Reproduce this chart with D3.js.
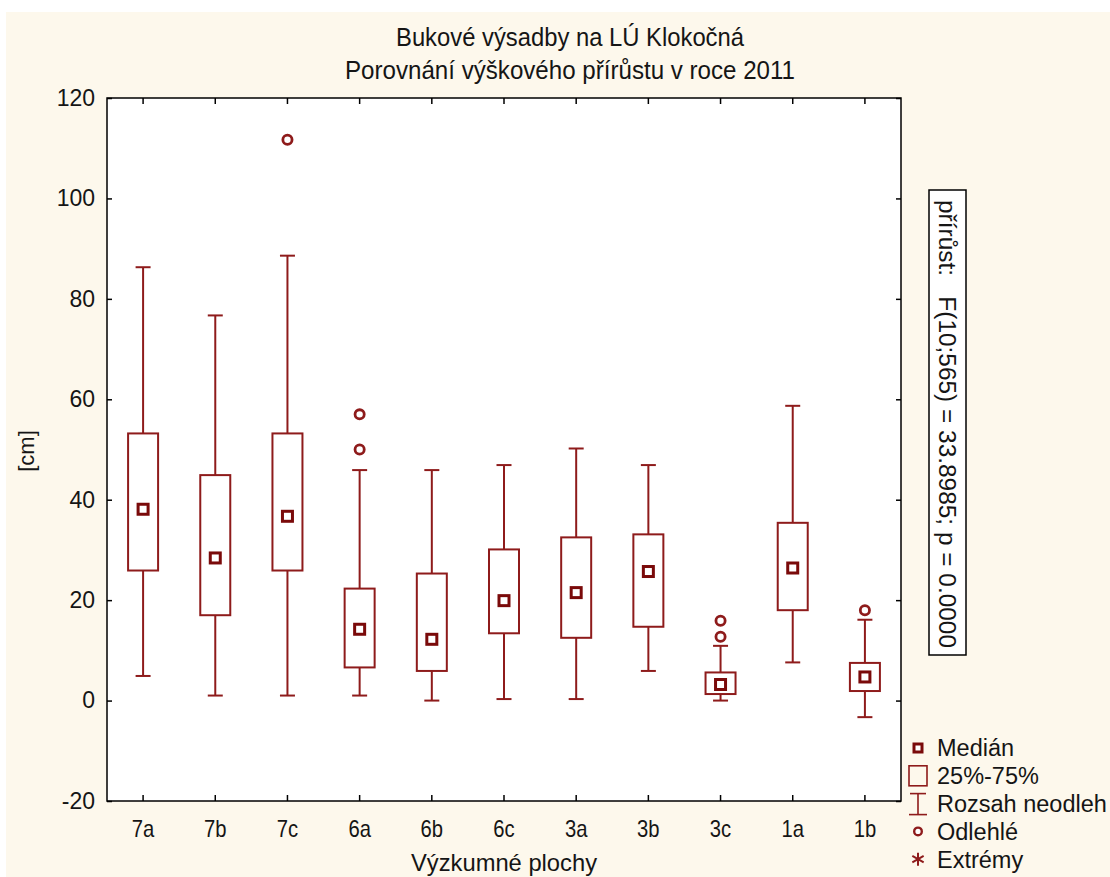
<!DOCTYPE html>
<html>
<head>
<meta charset="utf-8">
<script src="https://cdn.jsdelivr.net/npm/d3@7"></script>
<style>
  html, body { margin: 0; padding: 0; background: #ffffff; }
  svg { display: block; }
</style>
</head>
<body>
<svg id="chart" width="1110" height="877"></svg>
<script>
// Height increment of beech plantings per research plot (cm)
const categories  = ["7a", "7b", "7c", "6a", "6b", "6c", "3a", "3b", "3c", "1a", "1b"];
const whiskerLow  = [4.9, 1.0, 1.0, 1.0, 0.0, 0.3, 0.3, 5.9, 0.0, 7.6, -3.3];
const quartile1   = [25.9, 17.0, 25.9, 6.6, 5.9, 13.4, 12.5, 14.7, 1.3, 18.0, 1.9];
const medians     = [38.1, 28.4, 36.7, 14.2, 12.2, 19.9, 21.5, 25.7, 3.2, 26.4, 4.7];
const quartile3   = [53.2, 44.9, 53.2, 22.3, 25.3, 30.1, 32.5, 33.1, 5.6, 35.4, 7.5];
const whiskerHigh = [86.3, 76.7, 88.6, 45.9, 45.9, 46.9, 50.2, 46.9, 10.9, 58.7, 16.1];
const outlierCats   = ["7c", "6a", "6a", "3c", "3c", "1b"];
const outlierValues = [111.7, 57.0, 50.0, 15.9, 12.7, 18.0];

const yTicks = [-20, 0, 20, 40, 60, 80, 100, 120];
const titleLines = ["Bukové výsadby na LÚ Klokočná", "Porovnání výškového přírůstu v roce 2011"];
const titleWidths = [348, 450];
const xTitle = "Výzkumné plochy";
const yTitle = "[cm]";
const statText = "přírůst:   F(10;565) = 33.8985; p = 0.0000";
const legendLabels = ["Medián", "25%-75%", "Rozsah neodleh", "Odlehlé", "Extrémy"];

const boxes = categories.map((c, i) => ({
  cat: c, lo: whiskerLow[i], q1: quartile1[i], med: medians[i], q3: quartile3[i], hi: whiskerHigh[i]
}));
const outliers = outlierCats.map((c, i) => ({ cat: c, value: outlierValues[i] }));

const RED = "#8e1b1b";
const DARK_RED = "#7a0a0a";
const INK = "#151515";
const SANS = "'Liberation Sans', Arial, sans-serif";

const svg = d3.select("#chart");

// page background
svg.append("rect").attr("x", 6).attr("y", 12).attr("width", 1104).attr("height", 865)
  .attr("fill", "#fdf8ec");

const plot = { left: 107, right: 901, top: 98, bottom: 801 };

const x = d3.scaleBand().domain(categories).range([plot.left, plot.right]);
const y = d3.scaleLinear().domain([-20, 120]).range([plot.bottom, plot.top]);

// plot area
svg.append("rect")
  .attr("x", plot.left).attr("y", plot.top)
  .attr("width", plot.right - plot.left).attr("height", plot.bottom - plot.top)
  .attr("fill", "#ffffff");

// titles (slightly condensed)
svg.append("g").selectAll("text").data(titleLines).join("text")
  .attr("x", 570).attr("y", (d, i) => 46 + i * 33)
  .attr("text-anchor", "middle")
  .attr("font-family", SANS).attr("font-size", 25).attr("fill", INK)
  .attr("textLength", (d, i) => titleWidths[i])
  .attr("lengthAdjust", "spacingAndGlyphs")
  .text(d => d);

// axes with inward ticks
const styleAxis = g => {
  g.select(".domain").remove();
  g.selectAll(".tick line").attr("stroke", "#000").attr("stroke-width", 1.5);
};

svg.append("g").attr("transform", `translate(${plot.left},0)`)
  .call(d3.axisLeft(y).tickValues(yTicks).tickSize(-5).tickPadding(12).tickFormat(d => String(d)))
  .call(styleAxis)
  .call(g => g.selectAll("text").attr("font-family", SANS).attr("font-size", 23).attr("fill", INK));

svg.append("g").attr("transform", `translate(${plot.right},0)`)
  .call(d3.axisRight(y).tickValues(yTicks).tickSize(-5).tickFormat(""))
  .call(styleAxis);

svg.append("g").attr("transform", `translate(0,${plot.top})`)
  .call(d3.axisTop(x).tickSize(-6).tickFormat(""))
  .call(styleAxis);

svg.append("g").attr("transform", `translate(0,${plot.bottom})`)
  .call(d3.axisBottom(x).tickSize(-6).tickPadding(20))
  .call(styleAxis)
  .call(g => g.selectAll("text").attr("font-family", SANS).attr("font-size", 23).attr("fill", INK)
    .attr("transform", "scale(0.88,1)"));

// frame
svg.append("rect")
  .attr("x", plot.left).attr("y", plot.top)
  .attr("width", plot.right - plot.left).attr("height", plot.bottom - plot.top)
  .attr("fill", "none").attr("stroke", "#000").attr("stroke-width", 1.5);

// axis titles
svg.append("text")
  .attr("x", (plot.left + plot.right) / 2).attr("y", 871)
  .attr("text-anchor", "middle")
  .attr("font-family", SANS).attr("font-size", 24).attr("fill", INK)
  .attr("textLength", 186).attr("lengthAdjust", "spacingAndGlyphs")
  .text(xTitle);

svg.append("text")
  .attr("transform", "translate(34,451) rotate(-90)")
  .attr("text-anchor", "middle")
  .attr("font-family", SANS).attr("font-size", 22).attr("fill", INK)
  .text(yTitle);

// box plots
const boxW = 30, capW = 15, medS = 10;
const cx = d => x(d.cat) + x.bandwidth() / 2;
const gBox = svg.append("g").selectAll("g").data(boxes).join("g");

gBox.append("line")
  .attr("x1", cx).attr("x2", cx)
  .attr("y1", d => y(d.hi)).attr("y2", d => y(d.q3))
  .attr("stroke", RED).attr("stroke-width", 2);
gBox.append("line")
  .attr("x1", cx).attr("x2", cx)
  .attr("y1", d => y(d.q1)).attr("y2", d => y(d.lo))
  .attr("stroke", RED).attr("stroke-width", 2);
gBox.append("line")
  .attr("x1", d => cx(d) - capW / 2).attr("x2", d => cx(d) + capW / 2)
  .attr("y1", d => y(d.hi)).attr("y2", d => y(d.hi))
  .attr("stroke", RED).attr("stroke-width", 2);
gBox.append("line")
  .attr("x1", d => cx(d) - capW / 2).attr("x2", d => cx(d) + capW / 2)
  .attr("y1", d => y(d.lo)).attr("y2", d => y(d.lo))
  .attr("stroke", RED).attr("stroke-width", 2);
gBox.append("rect")
  .attr("x", d => cx(d) - boxW / 2).attr("width", boxW)
  .attr("y", d => y(d.q3)).attr("height", d => y(d.q1) - y(d.q3))
  .attr("fill", "#fff").attr("stroke", RED).attr("stroke-width", 2);
gBox.append("rect")
  .attr("x", d => cx(d) - medS / 2).attr("width", medS)
  .attr("y", d => y(d.med) - medS / 2).attr("height", medS)
  .attr("fill", "#fff").attr("stroke", DARK_RED).attr("stroke-width", 3);

// outliers
svg.append("g").selectAll("circle").data(outliers).join("circle")
  .attr("cx", d => x(d.cat) + x.bandwidth() / 2)
  .attr("cy", d => y(d.value))
  .attr("r", 4.6)
  .attr("fill", "#fff").attr("stroke", RED).attr("stroke-width", 2.8);

// statistics box (vertical text)
svg.append("rect")
  .attr("x", 929).attr("y", 190).attr("width", 37).attr("height", 465)
  .attr("fill", "#fff").attr("stroke", "#000").attr("stroke-width", 1.5);
svg.append("text")
  .attr("transform", "translate(939,424) rotate(90)")
  .attr("text-anchor", "middle")
  .attr("font-family", SANS).attr("font-size", 23).attr("fill", INK)
  .attr("textLength", 448).attr("lengthAdjust", "spacingAndGlyphs")
  .style("white-space", "pre")
  .text(statText);

// legend
const lx = 918, ly0 = 748, lstep = 27.8;
const leg = svg.append("g");
leg.selectAll("text").data(legendLabels).join("text")
  .attr("x", 937).attr("y", (d, i) => ly0 + i * lstep)
  .attr("dy", "0.36em")
  .attr("font-family", SANS).attr("font-size", 23.5).attr("fill", INK)
  .text(d => d);

// median symbol
leg.append("rect").attr("x", lx - 4).attr("y", ly0 - 4).attr("width", 8).attr("height", 8)
  .attr("fill", "#fff").attr("stroke", DARK_RED).attr("stroke-width", 3);
// quartile box
leg.append("rect").attr("x", lx - 9).attr("y", ly0 + lstep - 10).attr("width", 18).attr("height", 20)
  .attr("fill", "none").attr("stroke", RED).attr("stroke-width", 1.6);
// whisker range
{
  const cy = ly0 + 2 * lstep;
  leg.append("line").attr("x1", lx).attr("x2", lx).attr("y1", cy - 10).attr("y2", cy + 11)
    .attr("stroke", RED).attr("stroke-width", 1.6);
  leg.append("line").attr("x1", lx - 8).attr("x2", lx + 8).attr("y1", cy - 10).attr("y2", cy - 10)
    .attr("stroke", RED).attr("stroke-width", 1.6);
  leg.append("line").attr("x1", lx - 9).attr("x2", lx + 9).attr("y1", cy + 11).attr("y2", cy + 11)
    .attr("stroke", RED).attr("stroke-width", 1.6);
}
// outlier symbol
leg.append("circle").attr("cx", lx).attr("cy", ly0 + 3 * lstep).attr("r", 3.8)
  .attr("fill", "#fff").attr("stroke", RED).attr("stroke-width", 2.4);
// extreme symbol (asterisk)
{
  const cy = ly0 + 4 * lstep, r = 6.5;
  const arms = [[0, -r, 0, r], [-r * 0.87, -r * 0.5, r * 0.87, r * 0.5], [-r * 0.87, r * 0.5, r * 0.87, -r * 0.5]];
  leg.selectAll("line.ast").data(arms).join("line").attr("class", "ast")
    .attr("x1", d => lx + d[0]).attr("y1", d => cy + d[1])
    .attr("x2", d => lx + d[2]).attr("y2", d => cy + d[3])
    .attr("stroke", RED).attr("stroke-width", 2);
}
</script>
</body>
</html>
